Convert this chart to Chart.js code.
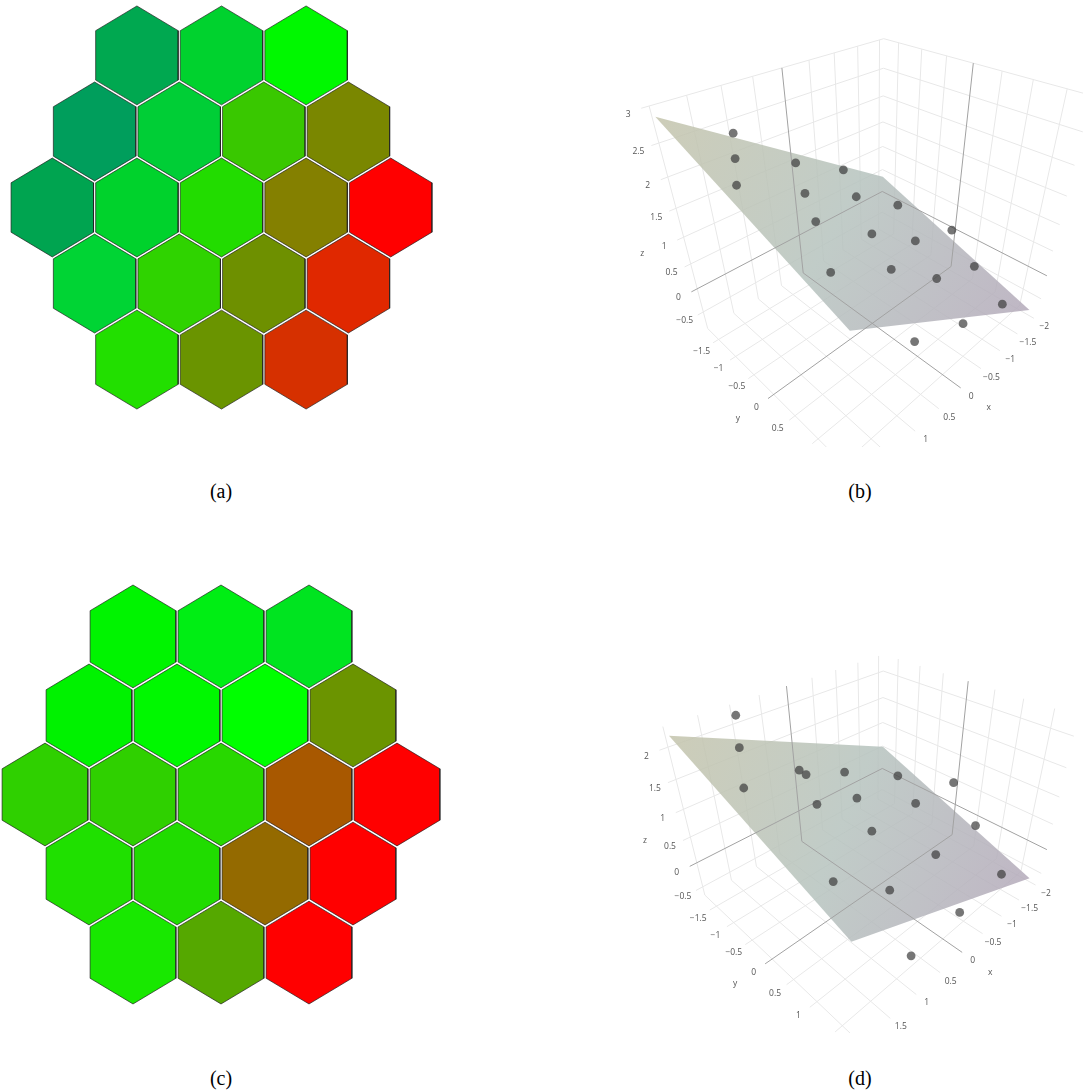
<!DOCTYPE html>
<html>
<head>
<meta charset="utf-8">
<title>Hexagon maps and fitted planes</title>
<script src="https://cdn.jsdelivr.net/npm/chart.js@4"></script>
<style>
body { margin: 0; background: #fff; }
canvas { position: absolute; }
.cap { position: absolute; width: 100px; text-align: center; font: 20px/24px "Liberation Serif", serif; color: #000; }
</style>
</head>
<body>
<canvas id="panelA" width="444" height="420" style="left:0;top:0"></canvas>
<canvas id="panelB" width="483" height="447" style="left:600px;top:0"></canvas>
<canvas id="panelC" width="444" height="440" style="left:0;top:575px"></canvas>
<canvas id="panelD" width="483" height="393" style="left:600px;top:640px"></canvas>
<div class="cap" style="left:171px;top:479px">(a)</div>
<div class="cap" style="left:810px;top:479px">(b)</div>
<div class="cap" style="left:171px;top:1066px">(c)</div>
<div class="cap" style="left:810px;top:1066px">(d)</div>
<script>
// Hexagon rows, top to bottom
const rowSizes = [3, 4, 5, 4, 3];
const cellColorsA = [
    '#00a850', '#00d22e', '#00f800',
    '#009e5c', '#00ce36', '#39c800', '#7a8700',
    '#00a450', '#00d22c', '#22dc00', '#848000', '#ff0000',
    '#00d434', '#2fd300', '#6e9000', '#e02800',
    '#22df00', '#6a9400', '#d63000'
];
const cellColorsC = [
    '#00f400', '#00ee14', '#00e420',
    '#00f200', '#00f800', '#00ff00', '#6b9400',
    '#2fd000', '#2fd000', '#28d800', '#a85800', '#ff0000',
    '#1fe000', '#20dc00', '#946a00', '#ff0000',
    '#18e800', '#55a800', '#ff0000'
];

// Sample positions shared by both 3D plots
const pointX = [-1, 0, 1, -1.5, -0.5, 0.5, 1.5, -2, -1, 0, 1, 2, -1.5, -0.5, 0.5, 1.5, -1, 0, 1];
const pointY = [-1.732, -1.732, -1.732, -0.866, -0.866, -0.866, -0.866, 0, 0, 0, 0, 0, 0.866, 0.866, 0.866, 0.866, 1.732, 1.732, 1.732];
const pointZB = [0.97, 1.49, 2.34, 0.39, 1.01, 1.51, 2.45, 0.02, 0.31, 0.97, 1.68, 2.64, -0.02, 0.33, 1.10, 1.65, 0.05, 0.37, 0.80];
const pointZD = [0.43, 0.88, 2.18, 0.50, 0.49, 1.36, 2.17, 0.51, 0.55, 0.52, 1.48, 2.17, 0.29, 0.27, 0.21, 1.01, 0.10, 0.03, -0.02];

// Fitted plane, corner order (x, y)
const planeX = [2, -2, -2, 2];
const planeY = [-1.732, -1.732, 1.732, 1.732];
const planeZB = [2.893, 0.425, -0.761, 1.730];
const planeZD = [2.213, 0.578, -0.612, 1.040];

// Axis ticks
const gridX = [-2, -1.5, -1, -0.5, 0, 0.5, 1, 1.5, 2];
const gridY = [-1.5, -1, -0.5, 0, 0.5, 1, 1.5];
const gridZB = [-0.5, 0, 0.5, 1, 1.5, 2, 2.5, 3];
const gridZD = [-0.5, 0, 0.5, 1, 1.5, 2];
const labelXB = [-2, -1.5, -1, -0.5, 0, 0.5, 1];
const labelYB = [-1.5, -1, -0.5, 0, 0.5];
const labelXD = [-2, -1.5, -1, -0.5, 0, 0.5, 1, 1.5];
const labelYD = [-1.5, -1, -0.5, 0, 0.5, 1];

// Camera matrices (3x4, row by row) for the two 3D views
const cameraB = [-106.5842, -17.17754, -61.53374, 872.0875, 10.08141, 9.708009, -67.7998, 283.705, -0.0701402, -0.0710101, -0.0703289, 1];
const cameraD = [-107.0536, -16.52612, -60.26988, 871.9401, -31.86276, -31.44610, -108.614, 857.830, -0.0709036, -0.0698964, -0.0689183, 1];

const noLegend = { legend: { display: false }, tooltip: { enabled: false } };
// Chart area has to fill the canvas exactly
const noPadding = { autoPadding: false, padding: 0 };

// Hexagon map: x in cell widths, y in cell radii
function drawHexPanel(canvasId, colors, centerX, centerY, cellWidth, cellRadius) {
    const canvas = document.getElementById(canvasId);
    const inset = 0.975;
    const datasets = [];
    let cell = 0;
    rowSizes.forEach(function(size, row) {
        for (let i = 0; i < size; i++) {
            const cx = i - (size - 1) / 2;
            const cy = (row - 2) * 1.5;
            const outline = [[0, -1], [0.5, -0.5], [0.5, 0.5], [0, 1], [-0.5, 0.5], [-0.5, -0.5], [0, -1]];
            datasets.push({
                data: outline.map(function(v) {
                    return { x: cx + v[0] * inset, y: cy + v[1] * inset };
                }),
                showLine: true,
                fill: 'shape',
                backgroundColor: colors[cell],
                borderColor: 'rgba(30, 30, 30, 0.75)',
                borderWidth: 0.9,
                pointRadius: 0,
                tension: 0
            });
            cell++;
        }
    });
    new Chart(canvas, {
        type: 'scatter',
        data: { datasets: datasets },
        options: {
            responsive: false,
            animation: false,
            layout: noPadding,
            plugins: noLegend,
            scales: {
                x: { type: 'linear', display: false, min: -centerX / cellWidth, max: (canvas.width - centerX) / cellWidth },
                y: { type: 'linear', display: false, reverse: true, min: -centerY / cellRadius, max: (canvas.height - centerY) / cellRadius }
            }
        }
    });
}

function tickText(v) {
    return String(v).replace('-', '\u2212');
}

// 3D view: everything goes through the camera, the chart scales are the screen plane
function drawPlotPanel(canvasId, cfg) {
    const canvas = document.getElementById(canvasId);
    const cam = cfg.camera;
    const project = function(x, y, z) {
        const w = cam[8] * x + cam[9] * y + cam[10] * z + cam[11];
        return {
            x: (cam[0] * x + cam[1] * y + cam[2] * z + cam[3]) / w,
            y: (cam[4] * x + cam[5] * y + cam[6] * z + cam[7]) / w
        };
    };
    const xR = cfg.xR, yR = cfg.yR, zMin = cfg.zMin, zMax = cfg.zMax;

    const gridLines = [];
    const zeroLines = [];
    function addLine(tick, pts) {
        (tick === 0 ? zeroLines : gridLines).push({
            data: pts,
            showLine: true,
            borderColor: tick === 0 ? '#a2a2a2' : '#e8e8e8',
            borderWidth: 1,
            pointRadius: 0,
            fill: false
        });
    }
    gridX.forEach(function(x) {
        addLine(x, [project(x, -yR, zMax), project(x, -yR, zMin), project(x, yR, zMin)]);
    });
    gridY.forEach(function(y) {
        addLine(y, [project(-xR, y, zMax), project(-xR, y, zMin), project(xR, y, zMin)]);
    });
    cfg.gridZ.forEach(function(z) {
        addLine(z, [project(xR, -yR, z), project(-xR, -yR, z), project(-xR, yR, z)]);
    });

    const planePts = planeX.map(function(x, i) {
        return project(x, planeY[i], cfg.planeZ[i]);
    });
    planePts.push(planePts[0]);

    // The scales start at the panel's corner, so canvas pixels are value minus offset
    const planeFill = canvas.getContext('2d').createLinearGradient(
        planePts[0].x - cfg.left, planePts[0].y - cfg.top,
        planePts[2].x - cfg.left, planePts[2].y - cfg.top
    );
    planeFill.addColorStop(0, 'rgba(196, 196, 172, 0.85)');
    planeFill.addColorStop(0.5, 'rgba(182, 195, 190, 0.85)');
    planeFill.addColorStop(1, 'rgba(180, 170, 186, 0.85)');

    // First dataset ends up on top
    const datasets = [{
        data: pointX.map(function(x, i) { return project(x, pointY[i], cfg.pointZ[i]); }),
        pointRadius: 4.4,
        pointBackgroundColor: 'rgba(60, 60, 60, 0.7)',
        pointBorderWidth: 0
    }].concat(zeroLines, [{
        data: planePts,
        showLine: true,
        fill: 'shape',
        backgroundColor: planeFill,
        borderWidth: 0,
        pointRadius: 0
    }], gridLines);

    // Tick labels and axis titles
    const axisText = {
        id: 'axisText',
        afterDatasetsDraw: function(chart) {
            const ctx = chart.ctx;
            const put = function(text, p, dx, dy) {
                ctx.fillText(text, chart.scales.x.getPixelForValue(p.x) + dx, chart.scales.y.getPixelForValue(p.y) + dy);
            };
            ctx.save();
            ctx.font = '8.5px "Open Sans"';
            ctx.fillStyle = '#555';
            ctx.textAlign = 'center';
            ctx.textBaseline = 'middle';
            cfg.labelX.forEach(function(x) { put(tickText(x), project(x, yR, zMin), 10.5, 8.5); });
            cfg.labelY.forEach(function(y) { put(tickText(y), project(xR, y, zMin), -11.5, 8.5); });
            cfg.gridZ.forEach(function(z) { put(tickText(z), project(xR, -yR, z), -13, 6); });
            put('x', project(0, yR, zMin), 28, 20);
            put('y', project(xR, 0, zMin), -30, 20);
            put('z', project(xR, -yR, cfg.zTitleAt), cfg.zTitleDx, cfg.zTitleDy);
            ctx.restore();
        }
    };

    new Chart(canvas, {
        type: 'scatter',
        data: { datasets: datasets },
        plugins: [axisText],
        options: {
            responsive: false,
            animation: false,
            layout: noPadding,
            plugins: noLegend,
            scales: {
                x: { type: 'linear', display: false, min: cfg.left, max: cfg.left + canvas.width },
                y: { type: 'linear', display: false, reverse: true, min: cfg.top, max: cfg.top + canvas.height }
            }
        }
    });
}

drawHexPanel('panelA', cellColorsA, 221.5, 207.5, 84.6, 50.7);
drawHexPanel('panelC', cellColorsC, 221, 219.5, 88, 52.7);

drawPlotPanel('panelB', {
    camera: cameraB, left: 600, top: 0,
    xR: 2.10, yR: 1.84, zMin: -0.88, zMax: 3,
    gridZ: gridZB, labelX: labelXB, labelY: labelYB,
    planeZ: planeZB, pointZ: pointZB,
    zTitleAt: 1, zTitleDx: -35, zTitleDy: 13
});
drawPlotPanel('panelD', {
    camera: cameraD, left: 600, top: 640,
    xR: 2.12, yR: 1.86, zMin: -0.68, zMax: 2.30,
    gridZ: gridZD, labelX: labelXD, labelY: labelYD,
    planeZ: planeZD, pointZ: pointZD,
    zTitleAt: 0.5, zTitleDx: -38, zTitleDy: 0
});
</script>
</body>
</html>
